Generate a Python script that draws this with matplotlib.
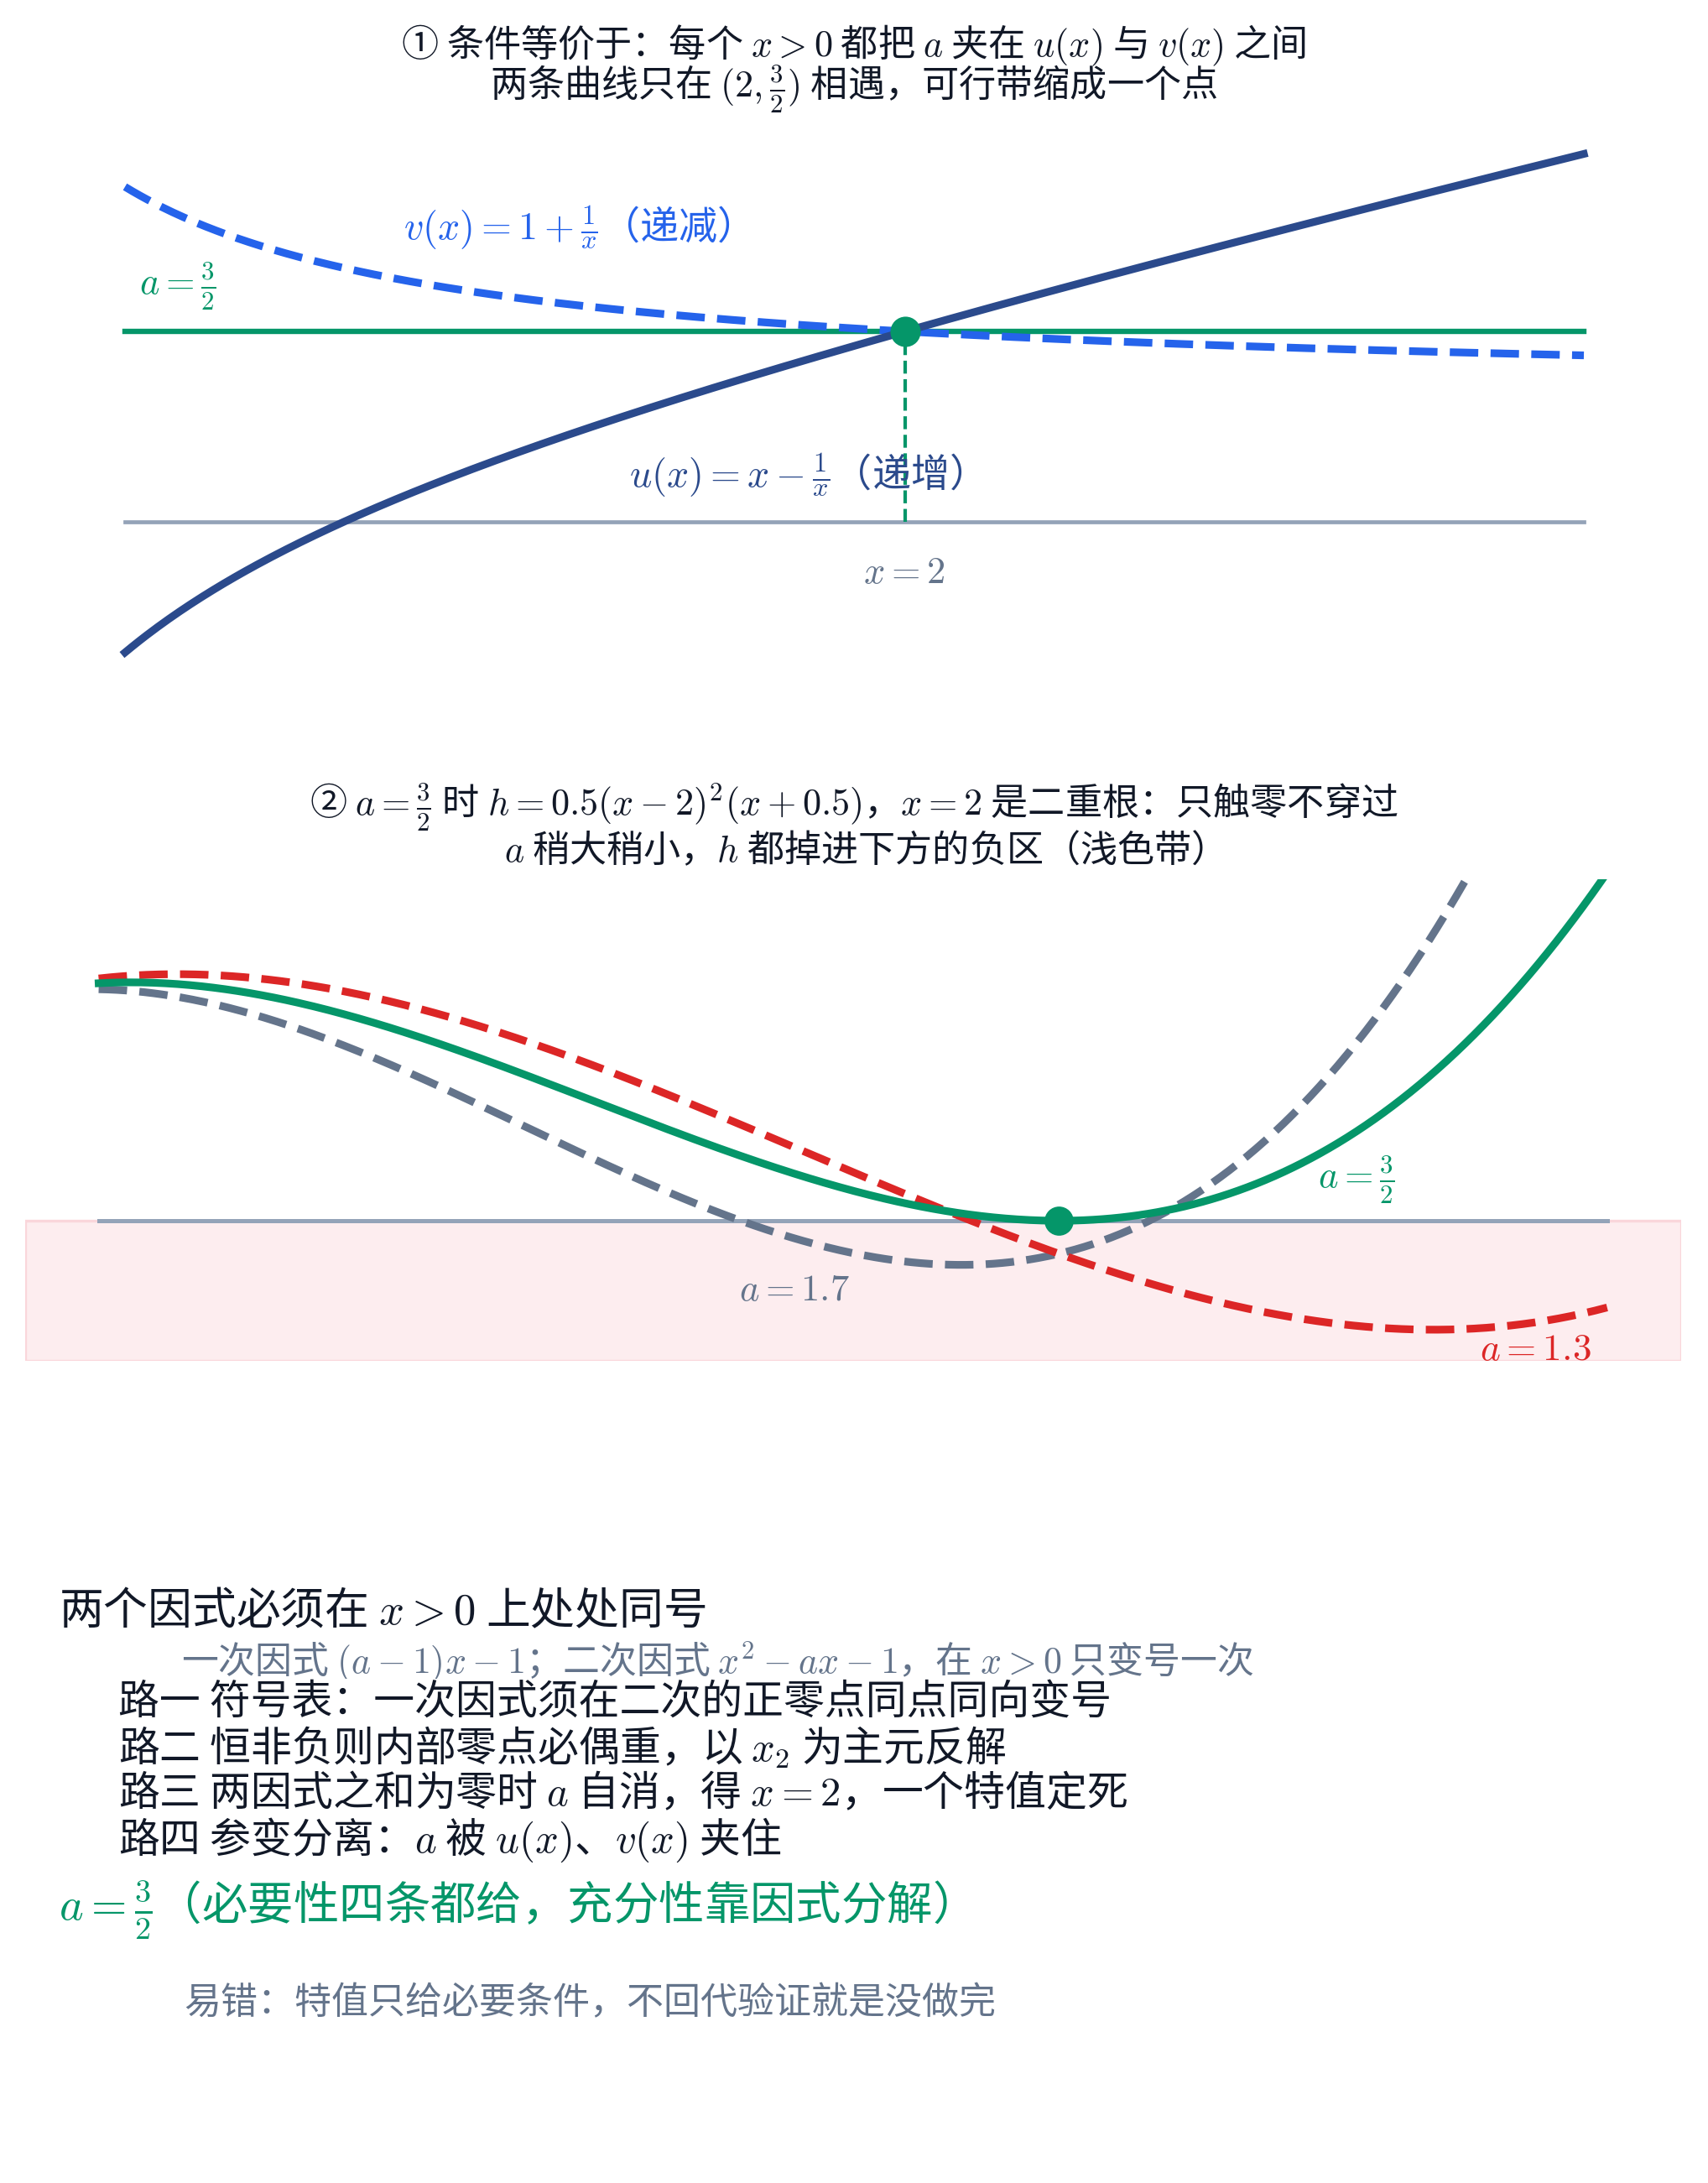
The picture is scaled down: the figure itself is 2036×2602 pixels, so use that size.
import numpy as np
import matplotlib
matplotlib.use("Agg")
import matplotlib.pyplot as plt

plt.rcParams['font.family'] = ['Noto Sans CJK SC', 'DejaVu Sans']
plt.rcParams['mathtext.fontset'] = 'cm'
plt.rcParams['axes.unicode_minus'] = False

# ---------------- data ----------------
A_STAR = 1.5                 # the special value a = 3/2
X_MEET = 2.0                 # meeting point x = 2
P1_X_RANGE = [0.61, 3.21]    # domain drawn in panel 1
P2_X_RANGE = [0.275, 2.985]  # domain drawn in panel 2
A_VALUES = [1.5, 1.7, 1.3]   # curves in panel 2
A_LABELS = [r'$a=\frac{3}{2}$', r'$a=1.7$', r'$a=1.3$']
BAND_LOW = -0.68             # negative region band

TITLE1 = [r'① 条件等价于：每个 $x>0$ 都把 $a$ 夹在 $u(x)$ 与 $v(x)$ 之间',
          r'两条曲线只在 $(2,\frac{3}{2})$ 相遇，可行带缩成一个点']
TITLE2 = [r'② $a=\frac{3}{2}$ 时 $h=0.5(x-2)^2(x+0.5)$，$x=2$ 是二重根：只触零不穿过',
          r'$a$ 稍大稍小，$h$ 都掉进下方的负区（浅色带）']
HEAD = r'两个因式必须在 $x>0$ 上处处同号'
SUB = r'一次因式 $(a-1)x-1$；二次因式 $x^2-ax-1$，在 $x>0$ 只变号一次'
ROUTES = [r'路一 符号表：一次因式须在二次的正零点同点同向变号',
          r'路二 恒非负则内部零点必偶重，以 $x_2$ 为主元反解',
          r'路三 两因式之和为零时 $a$ 自消，得 $x=2$，一个特值定死',
          r'路四 参变分离：$a$ 被 $u(x)$、$v(x)$ 夹住']
CONCL = r'$a=\frac{3}{2}$（必要性四条都给，充分性靠因式分解）'
WARN = r'易错：特值只给必要条件，不回代验证就是没做完'

# colors
GREEN = '#059669'
DBLUE = '#2b4a8c'
BLUE = '#2563eb'
RED = '#dc2626'
SLATE = '#64748b'
ZERO = '#94a3b8'
INK = '#111827'

W, H = 2036, 2602
DPI = 200
fig = plt.figure(figsize=(W / DPI, H / DPI), dpi=DPI)


def fx(px):
    return px / W


def fy(py):
    return 1 - py / H


def add_ax(l, r, t, b):
    ax = fig.add_axes([fx(l), fy(b), fx(r) - fx(l), fy(t) - fy(b)])
    ax.axis('off')
    return ax


# ---------------- panel 1 ----------------
ax1 = add_ax(62, 1975, 150, 800)
x1 = np.linspace(P1_X_RANGE[0], P1_X_RANGE[1], 400)
u = x1 - 1 / x1
v = 1 + 1 / x1
ax1.plot(P1_X_RANGE, [0, 0], color=ZERO, lw=1.7, zorder=1)
ax1.plot(P1_X_RANGE, [A_STAR, A_STAR], color=GREEN, lw=2.3, zorder=2)
ax1.plot(x1, v, color=BLUE, lw=3.3, ls='--', zorder=3)
ax1.plot(x1, u, color=DBLUE, lw=3.3, zorder=3)
ax1.plot([X_MEET, X_MEET], [0, A_STAR], color=GREEN, lw=1.5, ls='--', zorder=2)
ax1.plot([X_MEET], [A_STAR], 'o', color=GREEN, ms=12, zorder=5)
ax1.set_xlim(P1_X_RANGE[0] - 87 / 669, P1_X_RANGE[1] + 87 / 669)
ax1.set_ylim((622 - 800) / 151.3, (622 - 150) / 151.3)

fig.text(fx(481), fy(272), r'$v(x)=1+\frac{1}{x}$（递减）', color=BLUE,
         fontsize=16.6, ha='left', va='center')
fig.text(fx(166), fy(341), r'$a=\frac{3}{2}$', color=GREEN,
         fontsize=16, ha='left', va='center')
fig.text(fx(750), fy(567), r'$u(x)=x-\frac{1}{x}$（递增）', color=DBLUE,
         fontsize=16.6, ha='left', va='center')
fig.text(fx(1078), fy(682), r'$x=2$', color=SLATE,
         fontsize=16, ha='center', va='center')

# ---------------- panel 2 ----------------
ax2 = add_ax(30, 2004, 1048, 1622)
x2 = np.linspace(P2_X_RANGE[0], P2_X_RANGE[1], 500)
ax2.axhspan(BAND_LOW, 0, facecolor='#fdedef', edgecolor='#fad6db', lw=1.2, zorder=0)
ax2.plot(P2_X_RANGE, [0, 0], color=ZERO, lw=1.8, zorder=1)
styles = [dict(color=GREEN, ls='-'), dict(color=SLATE, ls='--'), dict(color=RED, ls='--')]
for a, st in zip(A_VALUES, styles):
    h = ((a - 1) * x2 - 1) * (x2 ** 2 - a * x2 - 1)
    ax2.plot(x2, h, lw=3.3, zorder=3 if st['ls'] == '-' else 2, **st)
ax2.plot([X_MEET], [0], 'o', color=GREEN, ms=11.5, zorder=5)
ax2.set_xlim(0.143, 3.118)
ax2.set_ylim(BAND_LOW, 1.658)

fig.text(fx(1571), fy(1406), A_LABELS[0], color=GREEN, fontsize=16, ha='left', va='center')
fig.text(fx(881), fy(1537), A_LABELS[1], color=SLATE, fontsize=16, ha='left', va='center')
fig.text(fx(1764), fy(1608), A_LABELS[2], color=RED, fontsize=16.3, ha='left', va='center')

# ---------------- titles ----------------
for txt, y in zip(TITLE1, [54, 106]):
    fig.text(0.5, fy(y), txt, fontsize=15.9, ha='center', va='center', color=INK)
for txt, y in zip(TITLE2, [962, 1014]):
    fig.text(0.5, fy(y), txt, fontsize=15.9, ha='center', va='center', color=INK)

# ---------------- bottom text ----------------
fig.text(fx(216), fy(1981), SUB, fontsize=15.8, color=SLATE, ha='left', va='center', zorder=1)
fig.text(fx(70), fy(1921), HEAD, fontsize=19, color=INK, ha='left', va='center', zorder=2,
         bbox=dict(facecolor='white', edgecolor='none', pad=1))
for i, (txt, y) in enumerate(zip(ROUTES, [2029, 2084, 2138, 2193])):
    kw = dict(bbox=dict(facecolor='white', edgecolor='none', pad=1)) if i == 0 else {}
    fig.text(fx(141), fy(y), txt, fontsize=17.6, color=INK, ha='left', va='center', zorder=2, **kw)
fig.text(fx(70), fy(2277), CONCL, fontsize=19.6, color=GREEN, ha='left', va='center')
fig.text(fx(219), fy(2387), WARN, fontsize=15.85, color=SLATE, ha='left', va='center')

fig.savefig('out.png', dpi=DPI, facecolor='white')
